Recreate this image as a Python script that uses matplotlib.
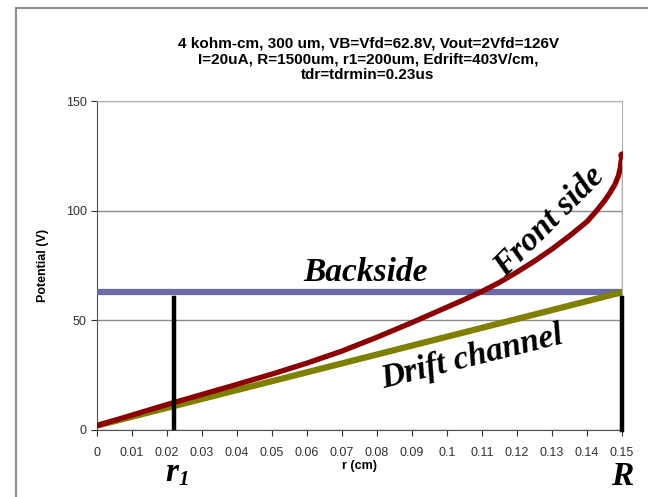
import numpy as np
import matplotlib.pyplot as plt
from matplotlib.patches import Rectangle

# r (cm) and potentials (V)
r_front = [0, 0.01, 0.02, 0.03, 0.04, 0.05, 0.06, 0.07, 0.08, 0.09, 0.10,
           0.105, 0.11, 0.115, 0.12, 0.125, 0.13, 0.135, 0.14, 0.1425,
           0.145, 0.1465, 0.148, 0.149, 0.1495, 0.15]
v_front = [2, 6.8, 11.6, 16.2, 20.8, 25.5, 30.5, 36, 42.3, 49, 56,
           59.5, 63.2, 67.3, 72, 77, 82.5, 88.5, 95, 99.5,
           104.5, 108, 112, 116, 119.5, 125.5]
r_drift = [0, 0.15]
v_drift = [2, 62.8]
r_back = [0, 0.15]
v_back = [62.8, 62.8]
r1 = 0.022
R = 0.15

x_ticks = np.round(np.arange(0, 0.151, 0.01), 2)
x_labels = ['0'] + ['%g' % t for t in x_ticks[1:]]
y_ticks = [0, 50, 100, 150]

title = ("4 kohm-cm, 300 um, VB=Vfd=62.8V, Vout=2Vfd=126V\n"
         "I=20uA, R=1500um, r1=200um, Edrift=403V/cm,\n"
         "tdr=tdrmin=0.23us")

plt.rcParams['font.family'] = ['Liberation Sans Narrow', 'Liberation Sans', 'DejaVu Sans']

fig = plt.figure(figsize=(6.48, 4.97), dpi=100)
fig.patches.append(Rectangle((16 / 648, -0.1), 1.2, 1 - 8 / 497 + 0.1,
                             transform=fig.transFigure, fill=False,
                             edgecolor='#909090', linewidth=1.5))
ax = fig.add_axes([97 / 648, 1 - 430 / 497, 525 / 648, 329 / 497])

ax.set_xlim(0, 0.15)
ax.set_ylim(0, 150)
ax.set_yticks(y_ticks)
ax.set_xticks(x_ticks)
ax.set_xticklabels(x_labels)
ax.tick_params(axis='both', labelsize=9, colors='#303030', direction='out', length=4)
ax.tick_params(axis='x', pad=8)
ax.grid(axis='y', color='#8a8a8a', linewidth=1)
for s in ['top', 'right']:
    ax.spines[s].set_color('#b0b0b0')
for s in ['left', 'bottom']:
    ax.spines[s].set_color('#505050')
ax.set_axisbelow(True)

ax.set_xlabel('r (cm)', fontsize=9, fontweight='bold', labelpad=1)
ax.set_ylabel('Potential (V)', fontsize=9, fontweight='bold', labelpad=12)
fig.text(368 / 648, 1 - 36 / 497, title, fontsize=11, fontweight='bold',
         ha='center', va='top', linespacing=1.2)

# curves
ax.plot(r_back, v_back, color='#6b6ba8', linewidth=4.5, solid_capstyle='butt', zorder=3)
ax.plot([R, R], [v_front[-1], v_back[0]], color='#c07070', linewidth=1, zorder=3)
ax.plot(r_drift, v_drift, color='#808000', linewidth=4.5, solid_capstyle='round', zorder=4)
ax.plot(r_front, v_front, color='#8b0000', linewidth=3.8, solid_capstyle='round',
        solid_joinstyle='round', zorder=4)
ax.plot(r_front[-1], v_front[-1], 'o', color='#8b0000', markersize=5, zorder=5)

# r1 and R markers
ax.plot([r1, r1], [1, 60], color='black', linewidth=3.2, zorder=6, clip_on=False)
ax.plot([R, R], [0, 60], color='black', linewidth=3.2, zorder=6, clip_on=False)

lab = dict(family=['Liberation Serif', 'DejaVu Serif'], fontweight='bold',
           fontstyle='italic', color='black', ha='center', va='center')
ax.text(0.0766, 71.8, 'Backside', fontsize=24, **lab)
ax.text(0.1292, 95, 'Front side', fontsize=24, rotation=45, **lab)
ax.text(0.1071, 33, 'Drift channel', fontsize=24, rotation=14, **lab)
ax.text(r1 - 0.0005, -19.5, 'r', fontsize=24, **lab)
ax.text(r1 + 0.0028, -23, '1', fontsize=15, **lab)
ax.text(R, -21, 'R', fontsize=24, **lab)

fig.savefig('out.png', dpi=100)
